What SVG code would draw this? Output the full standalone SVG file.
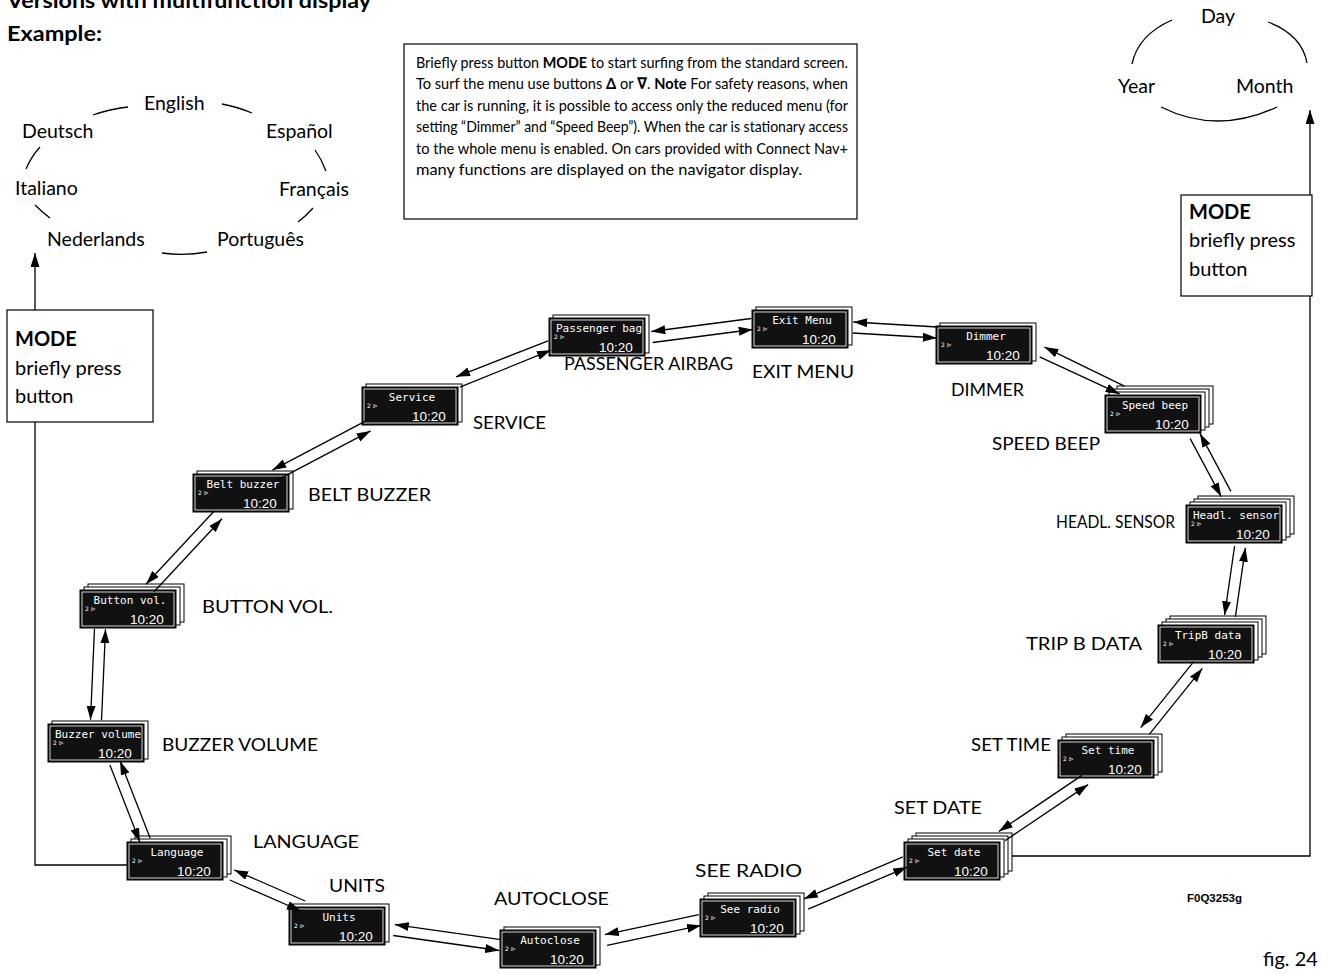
<svg xmlns="http://www.w3.org/2000/svg" width="1328" height="973" viewBox="0 0 1328 973">
<defs>
<marker id="ah" markerUnits="userSpaceOnUse" markerWidth="15" markerHeight="10" refX="14" refY="4.5" orient="auto">
<path d="M0,0 L14,4.5 L0,9 z" fill="#000"/>
</marker>
<style>
.t{font-family:Lato,"Open Sans","DejaVu Sans",sans-serif;fill:#000}
.b{font-weight:bold}
.lbl{font-size:18px}
.lang{font-size:19.5px}
.box{font-size:20px}
.para{font-size:16px}
.ln{stroke:#000;stroke-width:1.3;fill:none}
.arr{marker-end:url(#ah)}
.frame{fill:#fff;stroke:#000;stroke-width:1.2}
.bk{fill:#fff;stroke:#000;stroke-width:1}
.scr{fill:#111;stroke:#000;stroke-width:1}
.scrIn{fill:none;stroke:#fff;stroke-width:0.8}
.lcd{font-family:"DejaVu Sans Mono",monospace;font-size:11px;fill:#fff;text-anchor:middle}
.lcds{font-family:"DejaVu Sans",sans-serif;font-size:6px;fill:#fff}
.clk{font-family:"Liberation Sans",Arial,sans-serif;font-size:13.5px;fill:#fff}
</style>
</defs>
<rect width="1328" height="973" fill="#fff"/>

<g id="header">
<text class="t b" x="7" y="8" font-size="21" textLength="364" lengthAdjust="spacingAndGlyphs">Versions with multifunction display</text>
<text class="t b" x="7" y="41" font-size="21" textLength="95" lengthAdjust="spacingAndGlyphs">Example:</text>
</g>

<g id="info-box">
<rect class="frame" x="404" y="44" width="453" height="175"/>
<text class="t para" x="416" y="68" textLength="432" lengthAdjust="spacingAndGlyphs">Briefly press button <tspan class="b">MODE</tspan> to start surfing from the standard screen.</text>
<text class="t para" x="416" y="89" textLength="432" lengthAdjust="spacingAndGlyphs">To surf the menu use buttons <tspan class="b">Δ</tspan> or <tspan class="b">∇</tspan>. <tspan class="b">Note</tspan>  For safety reasons, when</text>
<text class="t para" x="416" y="111" textLength="432" lengthAdjust="spacingAndGlyphs">the car is running, it is possible to access only the reduced menu (for</text>
<text class="t para" x="416" y="132" textLength="432" lengthAdjust="spacingAndGlyphs">setting “Dimmer” and “Speed Beep”). When the car is stationary access</text>
<text class="t para" x="416" y="154" textLength="432" lengthAdjust="spacingAndGlyphs">to the whole menu is enabled. On cars provided with Connect Nav+</text>
<text class="t para" x="416" y="175" textLength="386" lengthAdjust="spacingAndGlyphs">many functions are displayed on the navigator display.</text>
</g>

<g id="language-ring">
<text class="t lang" x="144" y="110">English</text>
<text class="t lang" x="22" y="138">Deutsch</text>
<text class="t lang" x="266" y="138">Español</text>
<text class="t lang" x="15" y="195">Italiano</text>
<text class="t lang" x="279" y="196">Français</text>
<text class="t lang" x="47" y="246">Nederlands</text>
<text class="t lang" x="217" y="246">Português</text>
<path class="ln" d="M93,115 Q110,109 128,107"/>
<path class="ln" d="M222,104 Q238,107 252,113"/>
<path class="ln" d="M40,147 Q31,157 26,169"/>
<path class="ln" d="M315,150 Q322,160 326,171"/>
<path class="ln" d="M35,205 Q42,212 50,218"/>
<path class="ln" d="M313,208 Q306,216 298,222"/>
<path class="ln" d="M162,253 Q185,256 207,252"/>
</g>

<g id="date-ring">
<text class="t lang" x="1201" y="23">Day</text>
<text class="t lang" x="1118" y="93">Year</text>
<text class="t lang" x="1236" y="93">Month</text>
<path class="ln" d="M1172,20 Q1138,35 1132,64"/>
<path class="ln" d="M1268,22 Q1302,35 1307,63"/>
<path class="ln" d="M1161,107 Q1217,135 1277,107"/>
</g>

<g id="mode-left">
<rect class="frame" x="7" y="310" width="146" height="112"/>
<text class="t box b" x="15" y="346">MODE</text>
<text class="t box" x="15" y="375">briefly press</text>
<text class="t box" x="15" y="403">button</text>
</g>

<g id="mode-right">
<rect class="frame" x="1181" y="195" width="131" height="101"/>
<text class="t box b" x="1189" y="219">MODE</text>
<text class="t box" x="1189" y="247">briefly press</text>
<text class="t box" x="1189" y="276">button</text>
</g>

<g id="n-exit" transform="translate(752,310)">
<rect class="bk" x="4" y="-3" width="96" height="38"/>
<rect class="scr" width="96" height="38"/><rect class="scrIn" x="2" y="2" width="92" height="34"/>
<text class="lcd" x="50" y="14">Exit Menu</text><text class="lcds" x="5" y="21">2 ⊳</text><text class="clk" x="50" y="34">10:20</text>
</g>
<g id="n-passenger" transform="translate(549,318)">
<rect class="bk" x="4" y="-3" width="96" height="38"/>
<rect class="scr" width="96" height="38"/><rect class="scrIn" x="2" y="2" width="92" height="34"/>
<text class="lcd" x="50" y="14">Passenger bag</text><text class="lcds" x="5" y="21">2 ⊳</text><text class="clk" x="50" y="34">10:20</text>
</g>
<g id="n-dimmer" transform="translate(936,326)">
<rect class="bk" x="4" y="-3" width="96" height="38"/>
<rect class="scr" width="96" height="38"/><rect class="scrIn" x="2" y="2" width="92" height="34"/>
<text class="lcd" x="50" y="14">Dimmer</text><text class="lcds" x="5" y="21">2 ⊳</text><text class="clk" x="50" y="34">10:20</text>
</g>
<g id="n-service" transform="translate(362,387)">
<rect class="bk" x="4" y="-3" width="96" height="38"/>
<rect class="scr" width="96" height="38"/><rect class="scrIn" x="2" y="2" width="92" height="34"/>
<text class="lcd" x="50" y="14">Service</text><text class="lcds" x="5" y="21">2 ⊳</text><text class="clk" x="50" y="34">10:20</text>
</g>
<g id="n-speedbeep" transform="translate(1105,395)">
<rect class="bk" x="12" y="-9" width="96" height="38"/><rect class="bk" x="8" y="-6" width="96" height="38"/><rect class="bk" x="4" y="-3" width="96" height="38"/>
<rect class="scr" width="96" height="38"/><rect class="scrIn" x="2" y="2" width="92" height="34"/>
<text class="lcd" x="50" y="14">Speed beep</text><text class="lcds" x="5" y="21">2 ⊳</text><text class="clk" x="50" y="34">10:20</text>
</g>
<g id="n-beltbuzzer" transform="translate(193,474)">
<rect class="bk" x="4" y="-3" width="96" height="38"/>
<rect class="scr" width="96" height="38"/><rect class="scrIn" x="2" y="2" width="92" height="34"/>
<text class="lcd" x="50" y="14">Belt buzzer</text><text class="lcds" x="5" y="21">2 ⊳</text><text class="clk" x="50" y="34">10:20</text>
</g>
<g id="n-headl" transform="translate(1186,505)">
<rect class="bk" x="12" y="-9" width="96" height="38"/><rect class="bk" x="8" y="-6" width="96" height="38"/><rect class="bk" x="4" y="-3" width="96" height="38"/>
<rect class="scr" width="96" height="38"/><rect class="scrIn" x="2" y="2" width="92" height="34"/>
<text class="lcd" x="50" y="14">Headl. sensor</text><text class="lcds" x="5" y="21">2 ⊳</text><text class="clk" x="50" y="34">10:20</text>
</g>
<g id="n-buttonvol" transform="translate(80,590)">
<rect class="bk" x="8" y="-6" width="96" height="38"/><rect class="bk" x="4" y="-3" width="96" height="38"/>
<rect class="scr" width="96" height="38"/><rect class="scrIn" x="2" y="2" width="92" height="34"/>
<text class="lcd" x="50" y="14">Button vol.</text><text class="lcds" x="5" y="21">2 ⊳</text><text class="clk" x="50" y="34">10:20</text>
</g>
<g id="n-tripb" transform="translate(1158,625)">
<rect class="bk" x="12" y="-9" width="96" height="38"/><rect class="bk" x="8" y="-6" width="96" height="38"/><rect class="bk" x="4" y="-3" width="96" height="38"/>
<rect class="scr" width="96" height="38"/><rect class="scrIn" x="2" y="2" width="92" height="34"/>
<text class="lcd" x="50" y="14">TripB data</text><text class="lcds" x="5" y="21">2 ⊳</text><text class="clk" x="50" y="34">10:20</text>
</g>
<g id="n-buzzervol" transform="translate(48,724)">
<rect class="bk" x="4" y="-3" width="96" height="38"/>
<rect class="scr" width="96" height="38"/><rect class="scrIn" x="2" y="2" width="92" height="34"/>
<text class="lcd" x="50" y="14">Buzzer volume</text><text class="lcds" x="5" y="21">2 ⊳</text><text class="clk" x="50" y="34">10:20</text>
</g>
<g id="n-settime" transform="translate(1058,740)">
<rect class="bk" x="8" y="-6" width="96" height="38"/><rect class="bk" x="4" y="-3" width="96" height="38"/>
<rect class="scr" width="96" height="38"/><rect class="scrIn" x="2" y="2" width="92" height="34"/>
<text class="lcd" x="50" y="14">Set time</text><text class="lcds" x="5" y="21">2 ⊳</text><text class="clk" x="50" y="34">10:20</text>
</g>
<g id="n-setdate" transform="translate(904,842)">
<rect class="bk" x="12" y="-9" width="96" height="38"/><rect class="bk" x="8" y="-6" width="96" height="38"/><rect class="bk" x="4" y="-3" width="96" height="38"/>
<rect class="scr" width="96" height="38"/><rect class="scrIn" x="2" y="2" width="92" height="34"/>
<text class="lcd" x="50" y="14">Set date</text><text class="lcds" x="5" y="21">2 ⊳</text><text class="clk" x="50" y="34">10:20</text>
</g>
<g id="n-language" transform="translate(127,842)">
<rect class="bk" x="8" y="-6" width="96" height="38"/><rect class="bk" x="4" y="-3" width="96" height="38"/>
<rect class="scr" width="96" height="38"/><rect class="scrIn" x="2" y="2" width="92" height="34"/>
<text class="lcd" x="50" y="14">Language</text><text class="lcds" x="5" y="21">2 ⊳</text><text class="clk" x="50" y="34">10:20</text>
</g>
<g id="n-units" transform="translate(289,907)">
<rect class="bk" x="4" y="-3" width="96" height="38"/>
<rect class="scr" width="96" height="38"/><rect class="scrIn" x="2" y="2" width="92" height="34"/>
<text class="lcd" x="50" y="14">Units</text><text class="lcds" x="5" y="21">2 ⊳</text><text class="clk" x="50" y="34">10:20</text>
</g>
<g id="n-autoclose" transform="translate(500,930)">
<rect class="bk" x="4" y="-3" width="96" height="38"/>
<rect class="scr" width="96" height="38"/><rect class="scrIn" x="2" y="2" width="92" height="34"/>
<text class="lcd" x="50" y="14">Autoclose</text><text class="lcds" x="5" y="21">2 ⊳</text><text class="clk" x="50" y="34">10:20</text>
</g>
<g id="n-seeradio" transform="translate(700,899)">
<rect class="bk" x="8" y="-6" width="96" height="38"/><rect class="bk" x="4" y="-3" width="96" height="38"/>
<rect class="scr" width="96" height="38"/><rect class="scrIn" x="2" y="2" width="92" height="34"/>
<text class="lcd" x="50" y="14">See radio</text><text class="lcds" x="5" y="21">2 ⊳</text><text class="clk" x="50" y="34">10:20</text>
</g>

<g id="labels">
<text class="t lbl" x="564" y="370" textLength="169" lengthAdjust="spacingAndGlyphs">PASSENGER AIRBAG</text>
<text class="t lbl" x="752" y="378" textLength="102" lengthAdjust="spacingAndGlyphs">EXIT MENU</text>
<text class="t lbl" x="951" y="396" textLength="73" lengthAdjust="spacingAndGlyphs">DIMMER</text>
<text class="t lbl" x="473" y="429" textLength="73" lengthAdjust="spacingAndGlyphs">SERVICE</text>
<text class="t lbl" x="992" y="450" textLength="108" lengthAdjust="spacingAndGlyphs">SPEED BEEP</text>
<text class="t lbl" x="308" y="501" textLength="123" lengthAdjust="spacingAndGlyphs">BELT BUZZER</text>
<text class="t lbl" x="1056" y="528" textLength="119" lengthAdjust="spacingAndGlyphs">HEADL. SENSOR</text>
<text class="t lbl" x="202" y="613" textLength="131" lengthAdjust="spacingAndGlyphs">BUTTON VOL.</text>
<text class="t lbl" x="1026" y="650" textLength="116" lengthAdjust="spacingAndGlyphs">TRIP B DATA</text>
<text class="t lbl" x="162" y="751" textLength="156" lengthAdjust="spacingAndGlyphs">BUZZER VOLUME</text>
<text class="t lbl" x="971" y="751" textLength="80" lengthAdjust="spacingAndGlyphs">SET TIME</text>
<text class="t lbl" x="894" y="814" textLength="88" lengthAdjust="spacingAndGlyphs">SET DATE</text>
<text class="t lbl" x="253" y="848" textLength="106" lengthAdjust="spacingAndGlyphs">LANGUAGE</text>
<text class="t lbl" x="329" y="892" textLength="56" lengthAdjust="spacingAndGlyphs">UNITS</text>
<text class="t lbl" x="494" y="905" textLength="115" lengthAdjust="spacingAndGlyphs">AUTOCLOSE</text>
<text class="t lbl" x="695" y="877" textLength="107" lengthAdjust="spacingAndGlyphs">SEE RADIO</text>
<text x="1187" y="902" font-family="Liberation Sans,Arial,sans-serif" font-weight="bold" font-size="11.5">F0Q3253g</text>
<text class="t" x="1263" y="966" font-size="20">fig. 24</text>
</g>

<g id="connectors">
<path class="ln arr" d="M852.7,333 L936.7,338"/>
<path class="ln arr" d="M937.3,327 L853.3,322"/>
<path class="ln arr" d="M1039.6,356.9 L1119.6,393.9"/>
<path class="ln arr" d="M1124.4,386.1 L1044.4,347.1"/>
<path class="ln arr" d="M1190.2,438.6 L1221.2,496.6"/>
<path class="ln arr" d="M1230.9,491.4 L1199.9,433.4"/>
<path class="ln arr" d="M1234.6,546.2 L1224.6,615.2"/>
<path class="ln arr" d="M1235.4,616.8 L1245.4,547.8"/>
<path class="ln arr" d="M1193.7,661.6 L1140.7,727.6"/>
<path class="ln arr" d="M1149.3,734.4 L1202.3,668.4"/>
<path class="ln arr" d="M1081.9,775.4 L998.9,831.4"/>
<path class="ln arr" d="M1005.1,840.6 L1088.1,784.6"/>
<path class="ln arr" d="M902.9,856.9 L803.9,898.9"/>
<path class="ln arr" d="M808.2,909.1 L907.2,867.1"/>
<path class="ln arr" d="M698.9,914.6 L604.9,934.6"/>
<path class="ln arr" d="M607.1,945.4 L701.1,925.4"/>
<path class="ln arr" d="M500.8,939.6 L394.8,924.6"/>
<path class="ln arr" d="M393.2,935.5 L499.2,950.5"/>
<path class="ln arr" d="M305.2,901 L234.2,870"/>
<path class="ln arr" d="M229.8,880 L300.8,911"/>
<path class="ln arr" d="M150.1,838 L120.1,761"/>
<path class="ln arr" d="M109.9,765 L139.9,842"/>
<path class="ln arr" d="M101.5,720.2 L105.5,629.2"/>
<path class="ln arr" d="M94.5,628.8 L90.5,719.8"/>
<path class="ln arr" d="M154,591.8 L222,518.8"/>
<path class="ln arr" d="M214,511.3 L146,584.3"/>
<path class="ln arr" d="M277.6,479.9 L370.6,430.9"/>
<path class="ln arr" d="M365.4,421.1 L272.4,470.1"/>
<path class="ln arr" d="M459.9,387.2 L550.9,350.2"/>
<path class="ln arr" d="M548.1,340.8 L456.1,376.8"/>
<path class="ln arr" d="M652.7,342.5 L752.7,329.5"/>
<path class="ln arr" d="M751.3,318.5 L651.3,331.5"/>
<path class="ln" d="M35,422 L35,865 L127,865"/>
<path class="ln arr" d="M35,310 L35,253"/>
<path class="ln" d="M1012,856 L1310,856 L1310,296"/>
<path class="ln arr" d="M1310,195 L1310,110"/>
</g>
</svg>
